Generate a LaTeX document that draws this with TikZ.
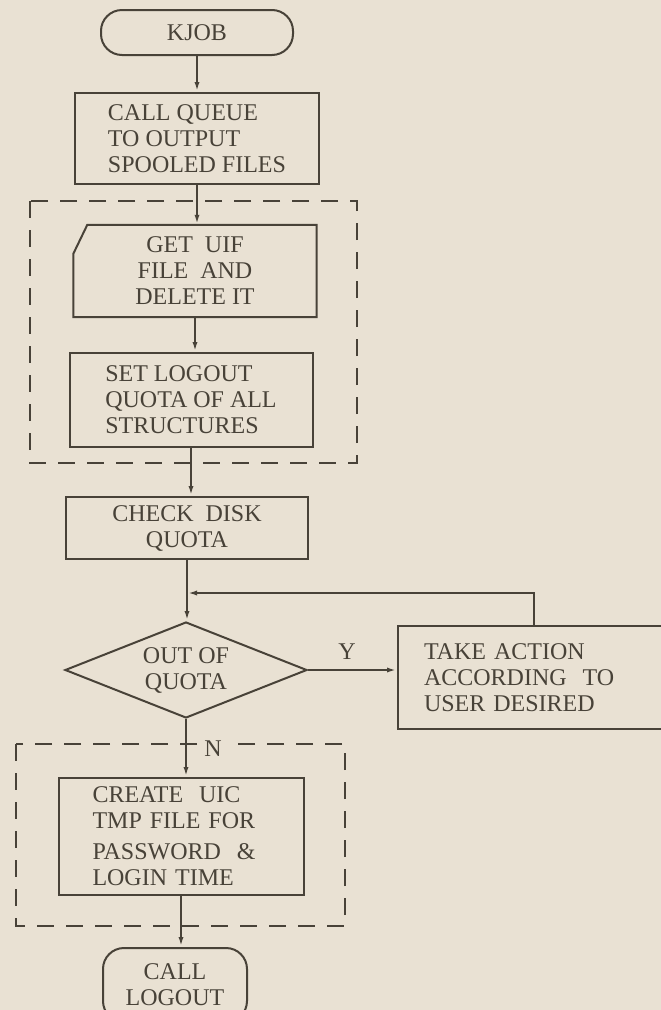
\documentclass[tikz,border=0pt]{standalone}
\usepackage{fontspec}
\setmainfont{Liberation Serif}
\usetikzlibrary{shapes.geometric,arrows.meta,calc}
\definecolor{paper}{RGB}{233,225,211}
\definecolor{ink}{RGB}{72,66,56}
\begin{document}
\begin{tikzpicture}[x=1pt,y=-1pt,
  every node/.style={text=ink, font=\fontsize{24}{26}\selectfont},
  box/.style={draw=ink, line width=2pt, rectangle, inner sep=0pt},
  term/.style={draw=ink, line width=2pt, rectangle, rounded corners=21pt, inner sep=0pt},
  arr/.style={draw=ink, line width=2pt, -{Latex[length=10pt,width=5pt]}},
  grp/.style={draw=ink, line width=2pt, dash pattern=on 17pt off 12pt},
]
\useasboundingbox (0,0) rectangle (661,1010);
\fill[paper] (0,0) rectangle (661,1010);
\begin{scope}
\clip (0,0) rectangle (661,1010);
% nodes
\node[term, minimum width=192pt, minimum height=45pt] (kjob) at (197,32.5) {KJOB};
\node[box, minimum width=244pt, minimum height=91pt, align=left] (queue) at (197,138.5) {CALL QUEUE\\TO OUTPUT\\SPOOLED FILES};
\node[minimum width=243pt, minimum height=92pt, inner sep=0pt, align=center] (uif) at (195,271) {GET\ \ UIF\\FILE\ \ AND\\DELETE IT};
\draw[ink, line width=2pt] ($(uif.north west)+(14,0)$) -- (uif.north east) -- (uif.south east) -- (uif.south west) -- ($(uif.north west)+(0,29)$) -- cycle;
\node[box, minimum width=243pt, minimum height=94pt, align=left] (setlog) at (191,400) {SET LOGOUT\\QUOTA OF ALL\\STRUCTURES};
\node[box, minimum width=242pt, minimum height=62pt, align=center] (check) at (187,528) {CHECK\ \ DISK\\QUOTA};
\node[diamond, draw=ink, line width=2pt, aspect=2.55, minimum width=242pt, minimum height=96pt, inner sep=0pt, align=center] (dia) at (186,670) {OUT OF\\QUOTA};
\node[box, anchor=north west, text width=238pt, inner xsep=26pt, minimum height=103pt, align=left] (take) at (397,625) {TAKE ACTION\\ACCORDING\ \ TO\\USER DESIRED};
\node[box, text width=177pt, inner xsep=34pt, minimum height=117pt, align=left] (create) at (181,836.5) {CREATE\ \ UIC\\TMP FILE FOR\\[5pt]PASSWORD\ \ \&\\LOGIN TIME};
\node[term, minimum width=144pt, minimum height=74pt, align=center] (logout) at (175,985) {CALL\\LOGOUT};
\node (ylab) at (347,652) {Y};
% groups
\draw[grp] (30,201) rectangle (357,463);
\draw[grp] (16,744) rectangle (345,926);
\node[fill=paper, inner xsep=5pt, inner ysep=2pt] (nlab) at (213,749) {N};
% connectors
\draw[arr] (kjob.south) -- (kjob.south |- queue.north);
\draw[arr] (queue.south) -- (queue.south |- uif.north);
\draw[arr] (uif.south) -- (uif.south |- setlog.north);
\draw[arr] (setlog.south) -- (setlog.south |- check.north);
\coordinate (loop) at (534,593);
\coordinate (junc) at (check.south |- loop);
\draw[arr] (check.south) -- (check.south |- dia.north);
\draw[arr] (take.north -| loop) |- (junc);
\draw[arr] (dia.east) -- (dia.east -| take.west);
\draw[arr] (dia.south) -- (dia.south |- create.north);
\draw[arr] (create.south) -- (create.south |- logout.north);
\end{scope}
\end{tikzpicture}
\end{document}
